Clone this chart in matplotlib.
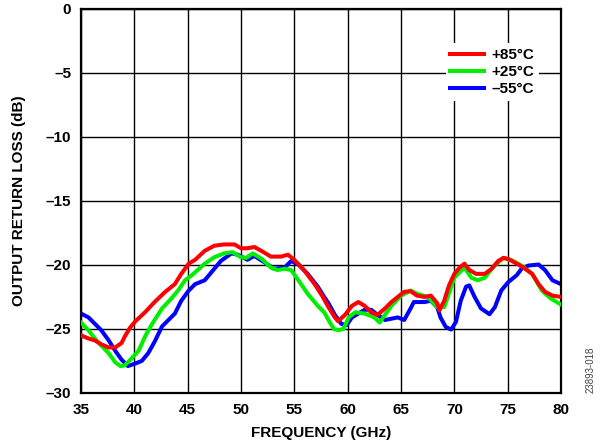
import numpy as np
import matplotlib.pyplot as plt

plt.rcParams['font.family'] = ['Liberation Sans', 'DejaVu Sans']
plt.rcParams['font.weight'] = 'bold'

# +85 C
freq_85 = [35.0, 35.7, 36.3, 36.9, 37.6, 38.2, 38.8, 39.1, 39.6, 40.1, 41.0, 41.9, 42.9,
           43.8, 44.4, 45.1, 45.7, 46.6, 47.5, 48.4, 49.4, 50.0, 50.6, 51.25, 51.9, 52.8,
           53.75, 54.4, 55.0, 55.9, 56.9, 57.6, 58.2, 58.8, 59.1, 59.75, 60.4, 61.0, 61.6,
           62.2, 62.8, 63.5, 64.1, 64.7, 65.3, 65.9, 66.5, 67.2, 67.8, 68.4, 68.6, 69.05,
           69.5, 70.0, 70.5, 70.95, 71.4, 72.05, 72.85, 73.5, 74.1, 74.6, 75.1, 75.85,
           76.65, 77.3, 77.9, 78.5, 79.2, 80.0]
rl_85 = [-25.5, -25.75, -25.9, -26.2, -26.45, -26.45, -26.1, -25.6, -24.9, -24.4, -23.7,
         -22.9, -22.1, -21.5, -20.7, -19.9, -19.6, -18.9, -18.5, -18.4, -18.4, -18.7,
         -18.7, -18.6, -18.9, -19.35, -19.35, -19.2, -19.6, -20.4, -21.5, -22.4, -23.3,
         -24.1, -24.4, -23.9, -23.2, -22.9, -23.2, -23.7, -23.9, -23.4, -22.9, -22.5,
         -22.1, -22.05, -22.4, -22.5, -22.4, -23.0, -23.55, -22.8, -21.6, -20.7, -20.2,
         -19.9, -20.4, -20.7, -20.7, -20.3, -19.7, -19.45, -19.55, -19.9, -20.3, -20.7,
         -21.5, -22.1, -22.4, -22.5]

# +25 C
freq_25 = [35.0, 35.7, 36.3, 36.9, 37.6, 38.2, 38.7, 39.1, 39.75, 40.4, 41.0, 41.6, 42.6,
           43.5, 44.1, 44.75, 45.4, 46.6, 47.5, 48.4, 49.2, 50.0, 50.5, 51.1, 51.9, 52.8,
           53.4, 54.1, 54.7, 55.3, 56.25, 57.2, 57.8, 58.2, 58.7, 59.1, 59.6, 60.1, 60.7,
           61.6, 62.5, 63.0, 63.5, 64.1, 65.0, 65.9, 66.5, 67.5, 68.4, 69.05, 70.0, 70.95,
           71.6, 72.2, 72.85, 73.6, 74.6, 75.4, 76.3, 77.3, 78.2, 79.0, 80.0]
rl_25 = [-24.5, -25.1, -25.75, -26.3, -26.9, -27.6, -27.9, -27.85, -27.3, -26.7, -25.6,
         -24.7, -23.4, -22.6, -22.0, -21.2, -20.8, -19.9, -19.4, -19.1, -19.0, -19.4,
         -19.45, -19.1, -19.5, -20.2, -20.4, -20.3, -20.4, -21.1, -22.25, -23.2, -23.7,
         -24.3, -25.0, -25.1, -25.0, -24.1, -23.7, -23.8, -24.1, -24.5, -23.9, -23.2,
         -22.4, -22.0, -22.25, -22.5, -23.3, -23.3, -21.0, -20.2, -21.0, -21.2, -21.0,
         -20.2, -19.45, -19.65, -20.05, -20.7, -22.0, -22.6, -23.1]

# -55 C
freq_m55 = [35.0, 35.7, 36.3, 36.9, 37.6, 38.2, 38.8, 39.4, 40.1, 40.7, 41.3, 41.9, 42.6,
            43.2, 43.8, 44.4, 45.1, 45.7, 46.6, 47.2, 48.1, 49.1, 49.7, 50.6, 51.25, 52.2,
            53.1, 54.1, 54.7, 55.3, 56.25, 57.2, 57.8, 58.2, 58.8, 59.4, 59.9, 60.4, 61.0,
            61.6, 62.2, 62.8, 63.5, 64.1, 64.7, 65.3, 65.9, 66.2, 67.2, 67.8, 68.4, 68.7,
            69.2, 69.7, 70.15, 70.6, 71.1, 71.4, 71.9, 72.5, 73.3, 73.8, 74.4, 75.05,
            75.85, 76.3, 76.95, 77.9, 78.5, 79.2, 80.0]
rl_m55 = [-23.8, -24.1, -24.6, -25.1, -25.9, -26.7, -27.4, -27.9, -27.7, -27.5, -26.9,
          -26.0, -24.8, -24.3, -23.8, -22.8, -22.0, -21.5, -21.2, -20.6, -19.7, -19.1,
          -19.2, -19.6, -19.3, -19.8, -20.3, -20.2, -19.7, -19.9, -20.7, -21.7, -22.5,
          -23.0, -23.9, -24.6, -24.7, -24.1, -23.8, -23.5, -23.5, -23.9, -24.3, -24.2,
          -24.1, -24.3, -23.4, -22.9, -22.9, -22.8, -23.3, -24.1, -24.85, -25.05, -24.45,
          -22.8, -21.7, -21.6, -22.5, -23.4, -23.85, -23.3, -22.0, -21.35, -20.8, -20.3,
          -20.05, -19.97, -20.4, -21.2, -21.5]

x_ticks = [35, 40, 45, 50, 55, 60, 65, 70, 75, 80]
y_ticks = [0, -5, -10, -15, -20, -25, -30]
y_labels = ['0', '–5', '–10', '–15', '–20', '–25', '–30']

fig = plt.figure(figsize=(6, 4.46), dpi=100)
ax = fig.add_axes([0.135, 0.119, 0.8, 0.861])

ax.plot(freq_85, rl_85, color='#ff0000', lw=2.9, label='+85°C', zorder=4)
ax.plot(freq_25, rl_25, color='#00ee00', lw=2.9, label='+25°C', zorder=3)
ax.plot(freq_m55, rl_m55, color='#0000ff', lw=2.9, label='–55°C', zorder=2)

ax.set_xlim(35, 80)
ax.set_ylim(-30, 0)
ax.set_xticks(x_ticks)
ax.set_xticklabels([str(t) for t in x_ticks])
ax.set_yticks(y_ticks)
ax.set_yticklabels(y_labels)
ax.tick_params(length=0, labelsize=11, pad=7)
ax.grid(True, color='black', lw=1.0)
for s in ax.spines.values():
    s.set_linewidth(1.6)

ax.set_xlabel('FREQUENCY (GHz)', fontsize=11, fontweight='bold', labelpad=7)
ax.set_ylabel('OUTPUT RETURN LOSS (dB)', fontsize=11, fontweight='bold', labelpad=14)

leg = ax.legend(loc='upper right', bbox_to_anchor=(0.97, 0.93), fontsize=11,
                handlelength=2.2, handletextpad=0.5, labelspacing=0.2,
                borderpad=0.3, framealpha=1, fancybox=False)
leg.get_frame().set_edgecolor('none')
leg.set_zorder(5)

fig.text(0.985, 0.118, '23893-018', rotation=90, fontsize=7, fontweight='normal',
         color='#444444', ha='center', va='bottom')

fig.savefig('out.png', dpi=100)
